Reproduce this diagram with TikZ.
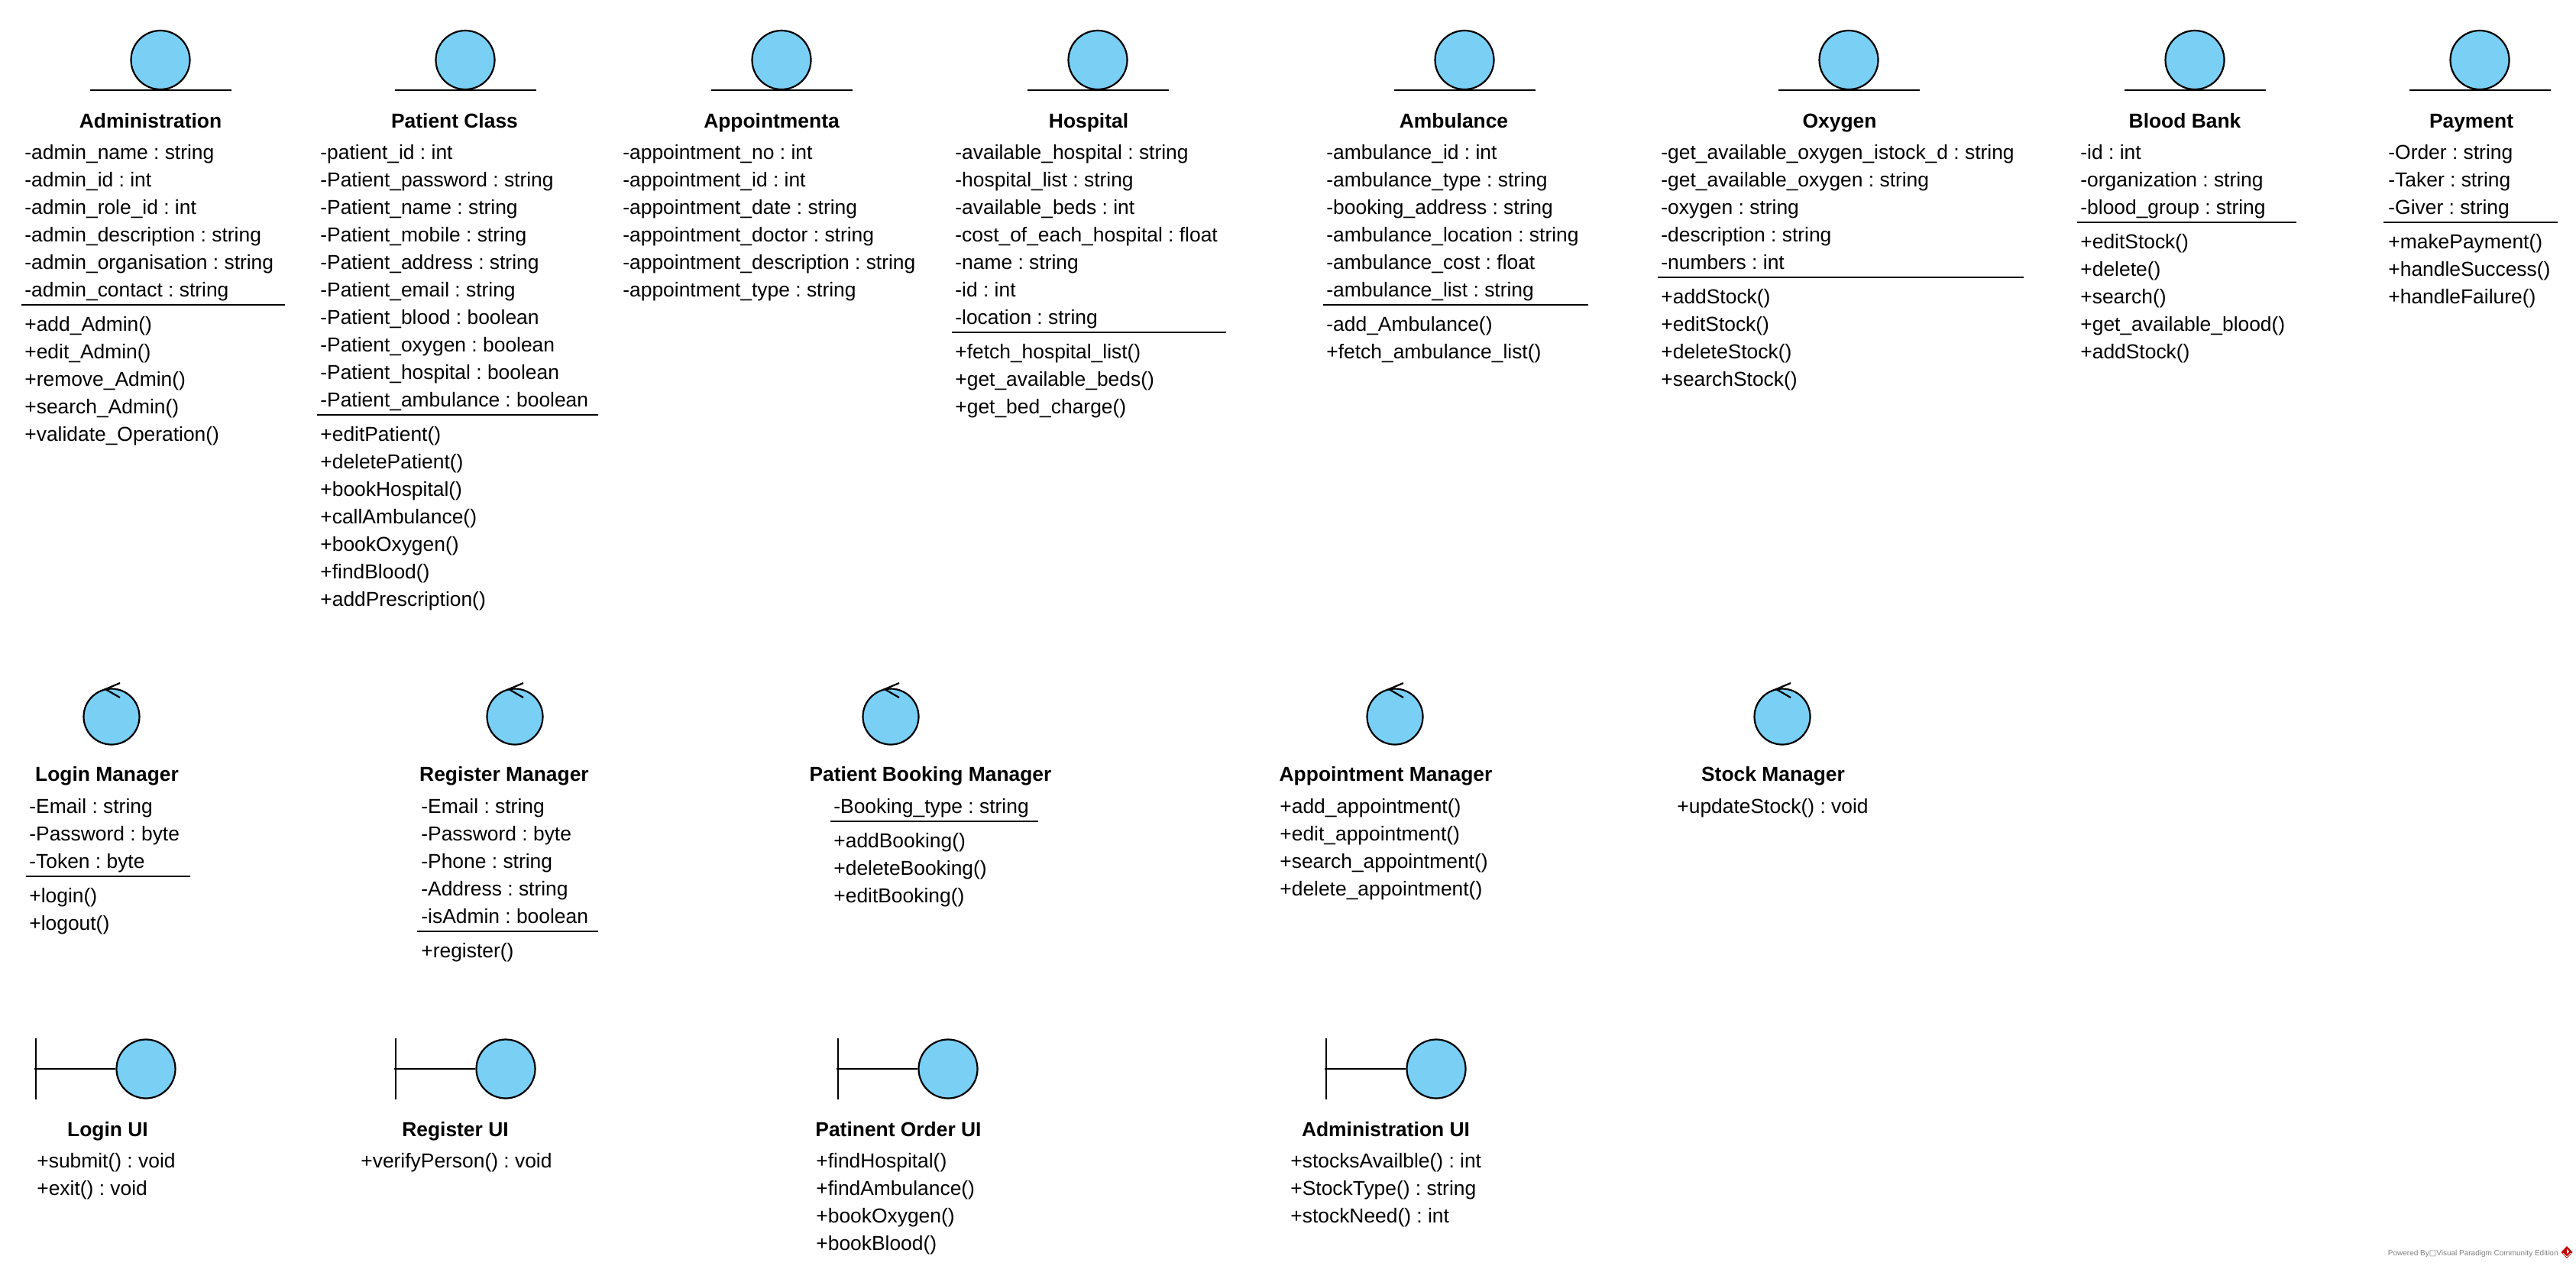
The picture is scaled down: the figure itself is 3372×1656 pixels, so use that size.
\documentclass[tikz,border=0pt]{standalone}
\usepackage{fontspec}
\setmainfont{Liberation Sans}
\newfontfamily\boxfont{DejaVu Sans}
\definecolor{ballblue}{HTML}{7ACFF5}
\definecolor{wmgray}{HTML}{808080}
\frenchspacing
\tikzset{
  ball/.style={circle,draw=black,fill=ballblue,line width=1.1pt,inner sep=0pt,minimum size=38.5pt},
  rulerline/.style={draw=black,line width=1.1pt},
  member/.style={anchor=base west,inner sep=0pt,font=\fontsize{13.2}{18}\selectfont},
  title/.style={anchor=base,inner sep=0pt,font=\fontsize{13.2}{18}\selectfont\bfseries},
}
\newcommand{\members}[4]{\foreach \txt [count=\k from 0] in {#4}
  \node[member] (#1\k) at (#2,#3+1+36*\k) {\txt};}
\begin{document}
\begin{tikzpicture}[x=0.5pt,y=-0.5pt]
\useasboundingbox (0,0) rectangle (3372,1656);
% entity icons
\foreach \id/\x in {admin/210,patient/609,appoint/1023,hospital/1437,ambulance/1917,oxygen/2420,blood/2873,payment/3246} {
  \node[ball] (\id Ball) at (\x,78.5) {};
  \draw[rulerline] (\id Ball.south) ++(-92.5,0) -- ++(185,0);
}
% control icons
\foreach \id/\x in {login/146,register/674,booking/1166,appt/1826,stock/2333} {
  \node[ball,minimum size=36.5pt] (\id Ball) at (\x,938) {};
  \draw[rulerline] ([shift={(11,-44)}]\id Ball.center) -- ([shift={(-8,-36)}]\id Ball.center) -- ([shift={(11,-25)}]\id Ball.center);
}
% boundary icons
\foreach \id/\x in {loginUi/191,registerUi/662,orderUi/1241,adminUi/1880} {
  \node[ball] (\id Ball) at (\x,1399) {};
  \draw[rulerline] (\id Ball.west) -- ++(-106.5,0);
  \draw[rulerline,line width=1pt] (\x-144.5,1359) -- (\x-144.5,1439);
}
% top row
\node[title] (adminName) at (197,167) {Administration};
\members{adminAttr}{32}{207}{-admin\_name : string,-admin\_id : int,-admin\_role\_id : int,-admin\_description : string,-admin\_organisation : string,-admin\_contact : string}
\draw[rulerline] (28,399) -- (373,399);
\members{adminOp}{32}{432}{+add\_Admin(),+edit\_Admin(),+remove\_Admin(),+search\_Admin(),+validate\_Operation()}

\node[title] (patientName) at (595,167) {Patient Class};
\members{patientAttr}{419}{207}{-patient\_id : int,-Patient\_password : string,-Patient\_name : string,-Patient\_mobile : string,-Patient\_address : string,-Patient\_email : string,-Patient\_blood : boolean,-Patient\_oxygen : boolean,-Patient\_hospital : boolean,-Patient\_ambulance : boolean}
\draw[rulerline] (415,543) -- (783,543);
\members{patientOp}{419}{576}{+editPatient(),+deletePatient(),+bookHospital(),+callAmbulance(),+bookOxygen(),+findBlood(),+addPrescription()}

\node[title] (appointName) at (1010,167) {Appointmenta};
\members{appointAttr}{815}{207}{-appointment\_no : int,-appointment\_id : int,-appointment\_date : string,-appointment\_doctor : string,-appointment\_description : string,-appointment\_type : string}

\node[title] (hospitalName) at (1425,167) {Hospital};
\members{hospitalAttr}{1250}{207}{-available\_hospital : string,-hospital\_list : string,-available\_beds : int,-cost\_of\_each\_hospital : float,-name : string,-id : int,-location : string}
\draw[rulerline] (1246,435) -- (1605,435);
\members{hospitalOp}{1250}{468}{+fetch\_hospital\_list(),+get\_available\_beds(),+get\_bed\_charge()}

\node[title] (ambulanceName) at (1903,167) {Ambulance};
\members{ambulanceAttr}{1736}{207}{-ambulance\_id : int,-ambulance\_type : string,-booking\_address : string,-ambulance\_location : string,-ambulance\_cost : float,-ambulance\_list : string}
\draw[rulerline] (1732,399) -- (2079,399);
\members{ambulanceOp}{1736}{432}{-add\_Ambulance(),+fetch\_ambulance\_list()}

\node[title] (oxygenName) at (2408,167) {Oxygen};
\members{oxygenAttr}{2174}{207}{-get\_available\_oxygen\_istock\_d : string,-get\_available\_oxygen : string,-oxygen : string,-description : string,-numbers : int}
\draw[rulerline] (2170,363) -- (2649,363);
\members{oxygenOp}{2174}{396}{+addStock(),+editStock(),+deleteStock(),+searchStock()}

\node[title] (bloodName) at (2860,167) {Blood Bank};
\members{bloodAttr}{2723}{207}{-id : int,-organization : string,-blood\_group : string}
\draw[rulerline] (2719,291) -- (3006,291);
\members{bloodOp}{2723}{324}{+editStock(),+delete(),+search(),+get\_available\_blood(),+addStock()}

\node[title] (paymentName) at (3235,167) {Payment};
\members{paymentAttr}{3126}{207}{-Order : string,-Taker : string,-Giver : string}
\draw[rulerline] (3120,291) -- (3348,291);
\members{paymentOp}{3126}{324}{+makePayment(),+handleSuccess(),+handleFailure()}

% middle row
\node[title] (loginName) at (140,1022) {Login Manager};
\members{loginAttr}{38}{1063}{-Email : string,-Password : byte,-Token : byte}
\draw[rulerline] (34,1147) -- (249,1147);
\members{loginOp}{38}{1180}{+login(),+logout()}

\node[title] (registerName) at (660,1022) {Register Manager};
\members{registerAttr}{551}{1063}{-Email : string,-Password : byte,-Phone : string,-Address : string,-isAdmin : boolean}
\draw[rulerline] (546,1219) -- (783,1219);
\members{registerOp}{551}{1252}{+register()}

\node[title] (bookingName) at (1218,1022) {Patient Booking Manager};
\members{bookingAttr}{1091}{1063}{-Booking\_type : string}
\draw[rulerline] (1087,1075) -- (1359,1075);
\members{bookingOp}{1091}{1108}{+addBooking(),+deleteBooking(),+editBooking()}

\node[title] (apptName) at (1814,1022) {Appointment Manager};
\members{apptOp}{1675}{1063}{+add\_appointment(),+edit\_appointment(),+search\_appointment(),+delete\_appointment()}

\node[title] (stockName) at (2321,1022) {Stock Manager};
\members{stockOp}{2195}{1063}{+updateStock() : void}

% bottom row
\node[title] (loginUiName) at (141,1487) {Login UI};
\members{loginUiOp}{48}{1527}{+submit() : void,+exit() : void}

\node[title] (registerUiName) at (596,1487) {Register UI};
\members{registerUiOp}{472}{1527}{+verifyPerson() : void}

\node[title] (orderUiName) at (1176,1487) {Patinent Order UI};
\members{orderUiOp}{1068}{1527}{+findHospital(),+findAmbulance(),+bookOxygen(),+bookBlood()}

\node[title] (adminUiName) at (1814,1487) {Administration UI};
\members{adminUiOp}{1689}{1527}{+stocksAvailble() : int,+StockType() : string,+stockNeed() : int}

% watermark
\node[anchor=base east,inner sep=0pt,text=wmgray,font=\fontsize{5}{6}\selectfont] (powered) at (3349,1643) {Powered By{\boxfont □}Visual Paradigm Community Edition};
\fill[red!75!black] (3360,1631) -- (3367.5,1639) -- (3360,1647) -- (3352.5,1639) -- cycle;
\draw[white,line width=0.4pt] (3355,1640) -- (3360,1645) -- (3365,1640);
\fill[white] (3360,1635) -- (3363,1638) -- (3360,1641) -- cycle;
\end{tikzpicture}
\end{document}
